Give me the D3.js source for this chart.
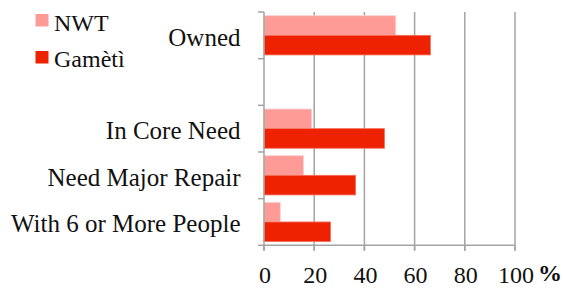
<!DOCTYPE html>
<html>
<head>
<meta charset="utf-8">
<script src="https://cdn.jsdelivr.net/npm/d3@7"></script>
<style>
  body { margin: 0; background: #fff; }
  text { font-family: "Liberation Serif", "DejaVu Serif", serif; fill: #111; }
</style>
</head>
<body>
<div class="chart"></div>
<script>
// Housing indicators, NWT vs Gamètì (horizontal grouped bars)
var categories = ["Owned", "", "In Core Need", "Need Major Repair", "With 6 or More People"];
var seriesNames = ["NWT", "Gamètì"];
var nwtValues = [52.5, null, 19, 15.7, 6.5];
var gametiValues = [66.3, null, 48, 36.5, 26.5];
var xTicks = [0, 20, 40, 60, 80, 100];

var colors = ["#ff9b97", "#ee2200"];

var svgWidth = 563;
var svgHeight = 288;

var svg = d3.select(".chart")
  .append("svg")
  .attr("width", svgWidth)
  .attr("height", svgHeight);

var x = d3.scaleLinear().domain([0, 100]).range([264, 515]);

var y = d3.scaleBand()
  .domain(d3.range(categories.length))
  .range([12, 245.3])
  .paddingInner(0)
  .paddingOuter(0);

var inner = d3.scaleBand()
  .domain([0, 1])
  .range([0, y.bandwidth()])
  .paddingInner(0)
  .paddingOuter(0.19);

// gridlines
svg.append("g")
  .selectAll("line")
  .data(xTicks.slice(1))
  .enter().append("line")
  .attr("x1", function(d) { return x(d); })
  .attr("x2", function(d) { return x(d); })
  .attr("y1", 12)
  .attr("y2", 250)
  .attr("stroke", "#a3a3a3")
  .attr("stroke-width", 1.5);

// bars
var rows = categories.map(function(c, i) {
  return { i: i, values: [nwtValues[i], gametiValues[i]] };
});

var groups = svg.selectAll(".row")
  .data(rows)
  .enter().append("g")
  .attr("class", "row")
  .attr("transform", function(d) { return "translate(0," + y(d.i) + ")"; });

groups.selectAll("rect")
  .data(function(d) {
    return d.values.map(function(v, k) { return { v: v, k: k }; })
      .filter(function(e) { return e.v != null; });
  })
  .enter().append("rect")
  .attr("x", x(0))
  .attr("y", function(d) { return inner(d.k); })
  .attr("width", function(d) { return x(d.v) - x(0); })
  .attr("height", inner.bandwidth())
  .attr("fill", function(d) { return colors[d.k]; })
  .attr("stroke", function(d) { return d.k === 0 ? "#ffd0ce" : "#f5705c"; })
  .attr("stroke-width", 0.8);

// y axis line
svg.append("line")
  .attr("x1", x(0)).attr("x2", x(0))
  .attr("y1", 12).attr("y2", 250)
  .attr("stroke", "#a3a3a3")
  .attr("stroke-width", 1.5);

// category separator ticks
var bounds = d3.range(categories.length + 1).map(function(i) { return 12 + i * y.bandwidth(); });
svg.append("g")
  .selectAll("line")
  .data(bounds)
  .enter().append("line")
  .attr("x1", x(0) - 6)
  .attr("x2", x(0))
  .attr("y1", function(d) { return d; })
  .attr("y2", function(d) { return d; })
  .attr("stroke", "#a3a3a3")
  .attr("stroke-width", 1.5);

// category labels
svg.append("g")
  .selectAll("text")
  .data(rows)
  .enter().append("text")
  .attr("x", 240.5)
  .attr("y", function(d) { return y(d.i) + y.bandwidth() / 2 + 10.3; })
  .attr("text-anchor", "end")
  .attr("font-size", 25)
  .text(function(d) { return categories[d.i]; });

// x axis ticks (below)
svg.append("g")
  .selectAll("line")
  .data(xTicks)
  .enter().append("line")
  .attr("x1", function(d) { return x(d); })
  .attr("x2", function(d) { return x(d); })
  .attr("y1", 245.3)
  .attr("y2", 251)
  .attr("stroke", "#a3a3a3")
  .attr("stroke-width", 1.5);

svg.append("line")
  .attr("x1", x(0)).attr("x2", x(100))
  .attr("y1", 245.3).attr("y2", 245.3)
  .attr("stroke", "#a3a3a3")
  .attr("stroke-width", 1.5);

svg.append("g")
  .selectAll("text")
  .data(xTicks)
  .enter().append("text")
  .attr("x", function(d) { return x(d) + 1; })
  .attr("y", 283)
  .attr("text-anchor", "middle")
  .attr("font-size", 24)
  .text(function(d) { return d; });

svg.append("text")
  .attr("x", 538)
  .attr("y", 280.5)
  .attr("font-size", 24)
  .attr("font-weight", "bold")
  .text("%");

// legend
var legend = svg.append("g");
seriesNames.forEach(function(name, k) {
  legend.append("rect")
    .attr("x", 35.5)
    .attr("y", 14 + k * 37)
    .attr("width", 13)
    .attr("height", 12.5)
    .attr("fill", colors[k]);
  legend.append("text")
    .attr("x", 54)
    .attr("y", 30.5 + k * 36.5)
    .attr("font-size", 24)
    .text(name);
});
</script>
</body>
</html>
